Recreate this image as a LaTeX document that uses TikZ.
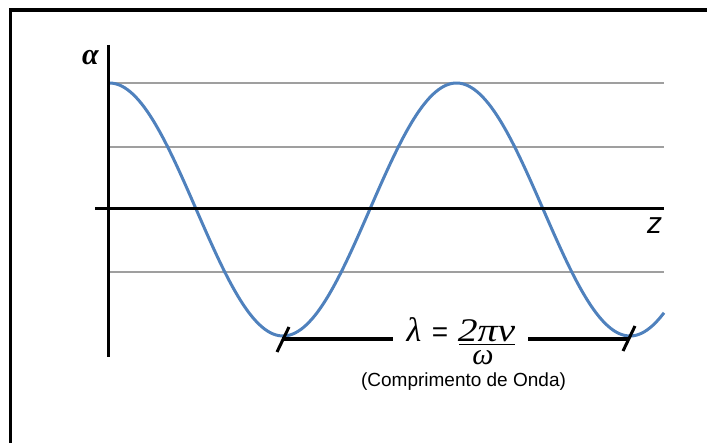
\documentclass[tikz,border=0pt]{standalone}
\usepackage{fontspec}
\setmainfont{Liberation Serif}
\newfontfamily\arial{Liberation Sans}
\begin{document}
\begin{tikzpicture}[x=1pt,y=-1pt,
  frame/.style={line width=3.5pt,black},
  axis/.style={line width=3pt,black},
  grid/.style={line width=1.2pt,gray!75},
  wave/.style={line width=3pt,color=wblue},
  dim/.style={line width=3.5pt,black},
  lbl/.style={inner sep=0pt,anchor=base}]
\definecolor{wblue}{RGB}{79,129,189}
\useasboundingbox (0,0) rectangle (707,443);
% frame
\coordinate (fbl) at (10.5,443);
\coordinate (ftl) at (10.5,10);
\coordinate (ftr) at (707,10);
\draw[frame] (fbl) -- (ftl) -- (ftr);
% grid lines
\foreach \y/\n in {83/a,147/b,272/c}{
  \coordinate (g\n l) at (108,\y);
  \coordinate (g\n r) at (664,\y);
  \draw[grid] (g\n l) -- (g\n r);
}
% wave
\draw[wave] plot[domain=108:664,samples=200,smooth] ({\x},{209.5-126.5*cos(1.037464*(\x-109.5))});
% axes
\coordinate (yt) at (108,45);
\coordinate (yb) at (108,357);
\coordinate (xl) at (95,209);
\coordinate (xr) at (664,209);
\draw[axis] (yt) -- (yb);
\draw[axis] (xl) -- (xr);
\node[lbl] (alpha) at (90.5,65) {\fontsize{30}{30}\selectfont\bfseries\itshape α};
\node[lbl] (z) at (654.5,234) {\fontsize{30}{30}\selectfont\arial\itshape z};
% dimension line
\coordinate (dl) at (282,339);
\coordinate (dlm) at (393,339);
\coordinate (drm) at (528,339);
\coordinate (dr) at (628,339);
\draw[dim] (dl) -- (dlm);
\draw[dim] (drm) -- (dr);
\coordinate (t1a) at (277,352);
\coordinate (t1b) at (289,327);
\coordinate (t2a) at (623,351);
\coordinate (t2b) at (635,326);
\draw[line width=3pt] (t1a) -- (t1b);
\draw[line width=3pt] (t2a) -- (t2b);
% formula
\node[lbl] (lam) at (414,342) {\fontsize{34}{34}\selectfont\itshape λ};
\node[lbl] (eq) at (440,342) {\fontsize{28}{28}\selectfont\arial =};
\node[lbl,text depth=0pt] (num) at (486.5,342) {\scalebox{1.2}[1]{\fontsize{33}{33}\selectfont\itshape 2πν}};
\coordinate (fbl1) at (459,344.5);
\coordinate (fbr1) at (515,344.5);
\draw[line width=1.3pt] (fbl1) -- (fbr1);
\node[lbl,text height=10pt] (den) at (483,365) {\fontsize{30}{30}\selectfont\itshape ω};
\node[lbl] (cap) at (463.5,387) {\fontsize{19}{19}\selectfont\arial (Comprimento de Onda)};
\end{tikzpicture}
\end{document}
